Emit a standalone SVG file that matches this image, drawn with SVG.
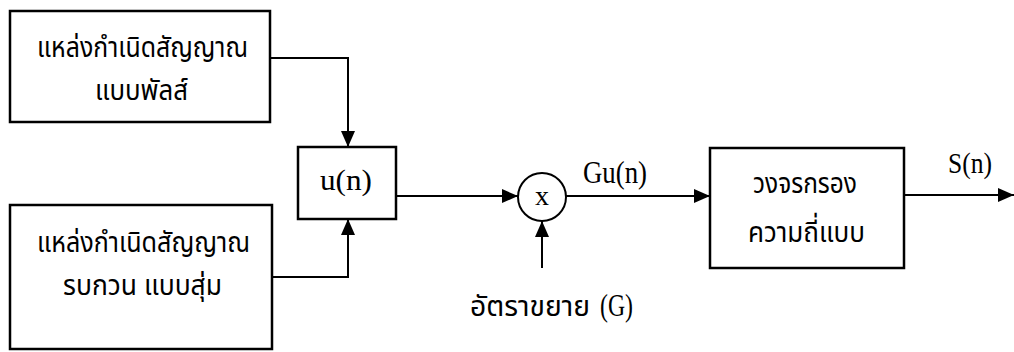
<svg xmlns="http://www.w3.org/2000/svg" width="1014" height="352" viewBox="0 0 1014 352">
<defs>
<marker id="ah" markerWidth="16" markerHeight="14" refX="16" refY="7" orient="auto" markerUnits="userSpaceOnUse">
<path d="M0,0 L16,7 L0,14 Z" fill="#000"/>
</marker>
<style>
.box{fill:#fff;stroke:#000;stroke-width:2.5}
.ln{fill:none;stroke:#000;stroke-width:2}
.th{font-family:"Noto Sans Thai","Loma","Garuda","Tlwg Typo","DejaVu Sans",sans-serif;font-size:29px;fill:#000}
.lt{font-family:"Liberation Serif","Times New Roman",serif;font-size:30px;fill:#000}
</style>
</defs>
<rect width="1014" height="352" fill="#fff"/>
<g id="connectors">
<polyline class="ln" points="270,58 348,58 348,147" marker-end="url(#ah)"/>
<polyline class="ln" points="271,277 348,277 348,219" marker-end="url(#ah)"/>
<line class="ln" x1="396" y1="196" x2="518" y2="196" marker-end="url(#ah)"/>
<line class="ln" x1="566" y1="196" x2="710" y2="196" marker-end="url(#ah)"/>
<line class="ln" x1="542" y1="268" x2="542" y2="221" marker-end="url(#ah)"/>
<line class="ln" x1="904" y1="195" x2="1014" y2="195" marker-end="url(#ah)"/>
</g>
<g id="src1">
<rect class="box" x="10" y="11" width="260" height="111"/>
<text class="th"><tspan x="37" y="57" textLength="211" lengthAdjust="spacingAndGlyphs">แหล่งกำเนิดสัญญาณ</tspan><tspan x="95" y="100" textLength="93" lengthAdjust="spacingAndGlyphs">แบบพัลส์</tspan></text>
</g>
<g id="src2">
<rect class="box" x="10" y="205" width="262" height="144"/>
<text class="th"><tspan x="37" y="252" textLength="213" lengthAdjust="spacingAndGlyphs">แหล่งกำเนิดสัญญาณ</tspan><tspan x="63" y="295" textLength="159" lengthAdjust="spacingAndGlyphs">รบกวน แบบสุ่ม</tspan></text>
</g>
<g id="un">
<rect class="box" x="298" y="147" width="98" height="72"/>
<text class="lt" x="320" y="190" textLength="52" lengthAdjust="spacingAndGlyphs">u(n)</text>
</g>
<g id="mult">
<circle class="box" cx="542" cy="197" r="24" style="stroke-width:2"/>
<text class="lt" x="542" y="205" text-anchor="middle" style="font-size:28px">x</text>
</g>
<g id="filter">
<rect class="box" x="710" y="148" width="194" height="120"/>
<text class="th"><tspan x="753" y="193" textLength="104" lengthAdjust="spacingAndGlyphs">วงจรกรอง</tspan><tspan x="748" y="242" textLength="117" lengthAdjust="spacingAndGlyphs">ความถี่แบบ</tspan></text>
</g>
<g id="labels">
<text class="lt" x="583" y="183" textLength="64" lengthAdjust="spacingAndGlyphs" style="font-size:32px">Gu(n)</text>
<text class="lt" x="948" y="173" textLength="44" lengthAdjust="spacingAndGlyphs" style="font-size:29px">S(n)</text>
<text class="th" x="470" y="316" textLength="120" lengthAdjust="spacingAndGlyphs">อัตราขยาย</text>
<text class="lt" x="600" y="316" textLength="33" lengthAdjust="spacingAndGlyphs" style="font-size:31px">(G)</text>
</g>
</svg>
